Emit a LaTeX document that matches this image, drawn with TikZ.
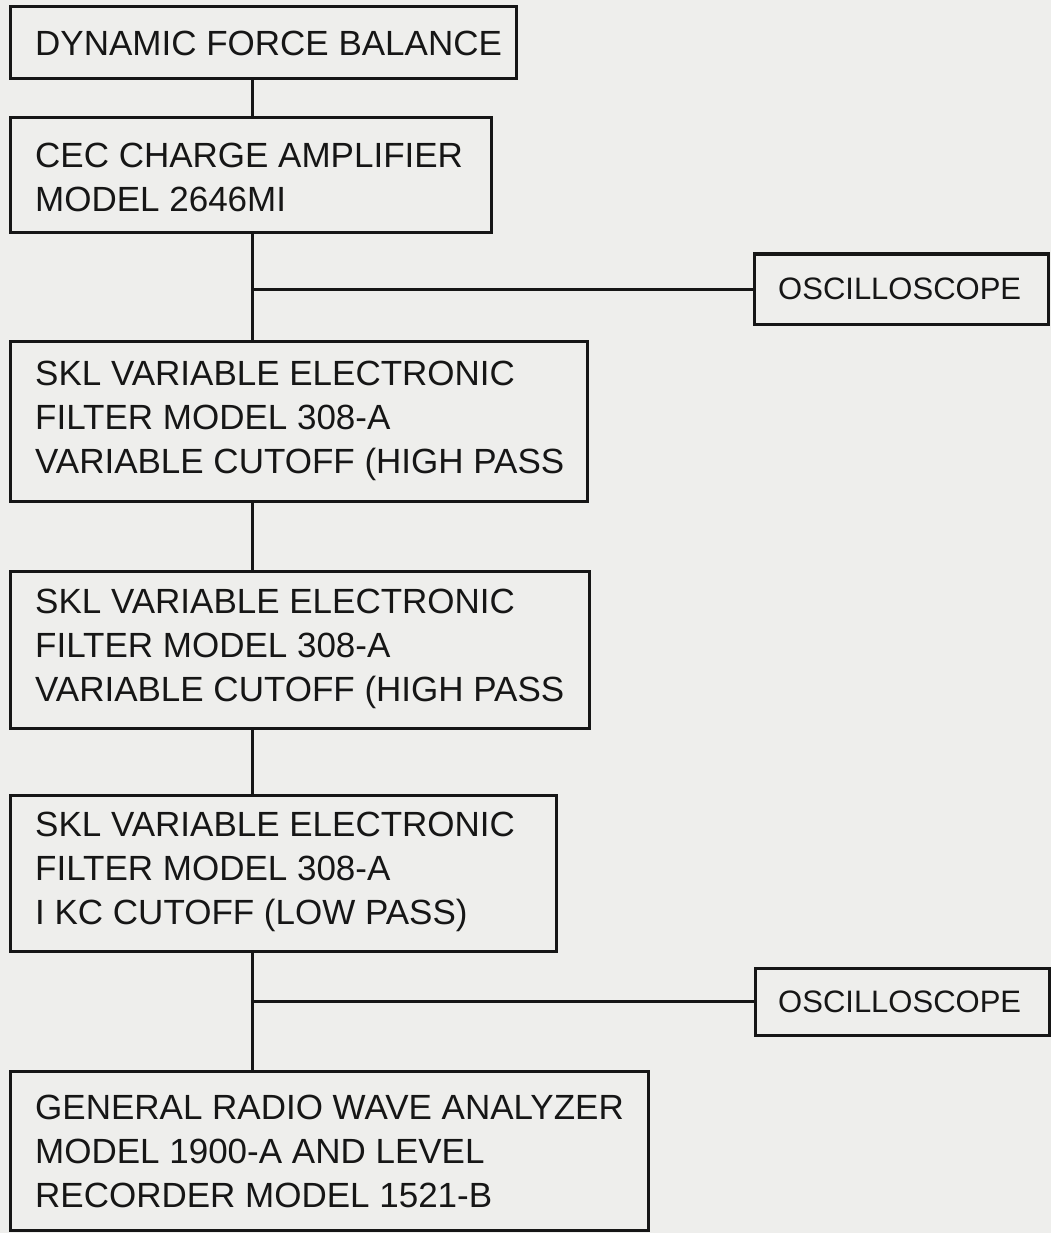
\documentclass[tikz,border=0pt]{standalone}
\usepackage{fontspec}
\setmainfont{Liberation Sans}
\usetikzlibrary{positioning}
\definecolor{paper}{RGB}{238,238,236}
\definecolor{ink}{RGB}{22,22,22}
\tikzset{
  blockbox/.style={draw=ink, line width=3pt, inner sep=0pt, rectangle},
  blocklbl/.style={inner sep=0pt, anchor=west, align=left, text=ink,
    font=\fontsize{35}{44}\selectfont},
  scopelbl/.style={inner sep=0pt, anchor=west, text=ink,
    font=\fontsize{31}{37}\selectfont},
  wire/.style={draw=ink, line width=3pt}
}
\begin{document}
\begin{tikzpicture}[x=1pt,y=-1pt]
\fill[paper] (0,0) rectangle (1051,1233);
\useasboundingbox (0,0) rectangle (1051,1233);

% boxes
\node[blockbox, minimum width=506pt, minimum height=72pt]  (b1) at (263,43) {};
\node[blockbox, minimum width=481pt, minimum height=115pt] (b2) at (250.5,175.5) {};
\node[blockbox, minimum width=294pt, minimum height=70pt]  (o1) at (901,289) {};
\node[blockbox, minimum width=577pt, minimum height=160pt] (b3) at (298.5,421) {};
\node[blockbox, minimum width=579pt, minimum height=157pt] (b4) at (299.5,649.5) {};
\node[blockbox, minimum width=546pt, minimum height=156pt] (b5) at (283,873) {};
\node[blockbox, minimum width=294pt, minimum height=67pt]  (o2) at (902,1001.5) {};
\node[blockbox, minimum width=638pt, minimum height=159pt] (b6) at (329,1150.5) {};

% labels
\node[blocklbl] (t1) at (35,43) {DYNAMIC FORCE BALANCE};
\node[blocklbl] (t2) at (35,177) {CEC CHARGE AMPLIFIER\\MODEL 2646MI};
\node[scopelbl] (s1) at (778,289) {OSCILLOSCOPE};
\node[blocklbl] (t3) at (35,421) {SKL VARIABLE ELECTRONIC\\FILTER MODEL 308-A\\VARIABLE CUTOFF (HIGH PASS};
\node[blocklbl] (t4) at (35,649) {SKL VARIABLE ELECTRONIC\\FILTER MODEL 308-A\\VARIABLE CUTOFF (HIGH PASS};
\node[blocklbl] (t5) at (35,872) {SKL VARIABLE ELECTRONIC\\FILTER MODEL 308-A\\I KC CUTOFF (LOW PASS)};
\node[scopelbl] (s2) at (778,1001.5) {OSCILLOSCOPE};
\node[blocklbl] (t6) at (35,1151) {GENERAL RADIO WAVE ANALYZER\\MODEL 1900-A AND LEVEL\\RECORDER MODEL 1521-B};

% spine and junctions
\coordinate (sp) at (252,0);
\coordinate (j1) at (252,289);
\coordinate (j2) at (252,1001.5);

\draw[wire] (b1.south -| sp) -- (b2.north -| sp);
\draw[wire] (b2.south -| sp) -- (b3.north -| sp);
\draw[wire] (j1) -- (o1.west);
\draw[wire] (b3.south -| sp) -- (b4.north -| sp);
\draw[wire] (b4.south -| sp) -- (b5.north -| sp);
\draw[wire] (b5.south -| sp) -- (b6.north -| sp);
\draw[wire] (j2) -- (o2.west);
\end{tikzpicture}
\end{document}
